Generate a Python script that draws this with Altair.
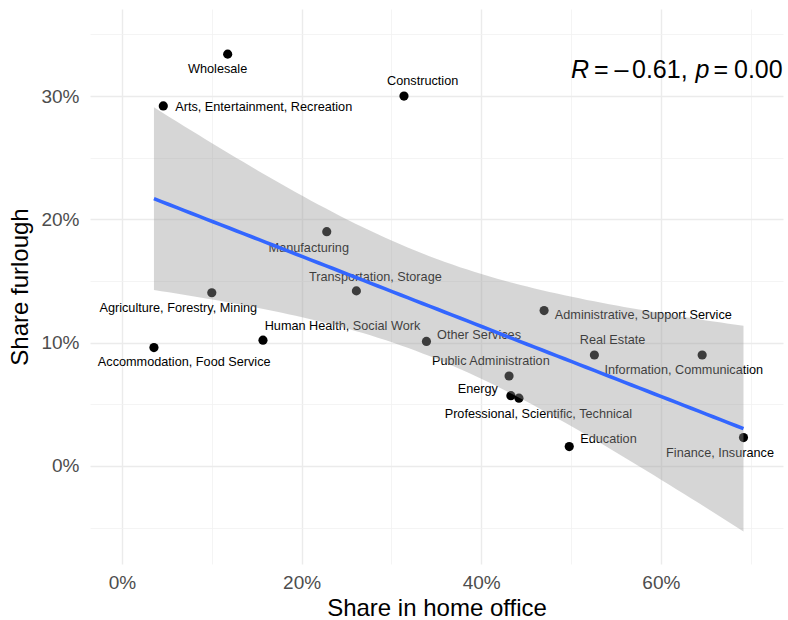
import altair as alt
import numpy as np
import pandas as pd

# Sectors: share working from home vs. share on furlough (both in %)
sectors = [
    "Wholesale", "Arts, Entertainment, Recreation", "Construction", "Manufacturing",
    "Transportation, Storage", "Agriculture, Forestry, Mining", "Human Health, Social Work",
    "Accommodation, Food Service", "Other Services", "Administrative, Support Service",
    "Real Estate", "Information, Communication", "Public Administration", "Energy",
    "Professional, Scientific, Technical", "Education", "Finance, Insurance",
]
home_office = [11.77, 4.6, 31.4, 22.8, 26.1, 10.0, 15.7, 3.56, 33.9, 47.0,
               52.6, 64.6, 43.1, 43.3, 44.2, 49.8, 69.2]
furlough = [33.4, 29.2, 30.0, 19.0, 14.2, 14.05, 10.2, 9.6, 10.1, 12.6,
            9.0, 9.0, 7.3, 5.7, 5.5, 1.57, 2.3]

# Where each sector name sits (data units), as laid out by a repel step
label_x = [10.65, 15.78, 33.48, 20.80, 28.21, 6.27, 24.55, 6.93, 39.76, 58.05,
           54.62, 62.56, 41.07, 39.62, 46.36, 54.17, 66.59]
label_y = [32.17, 29.14, 31.22, 17.70, 15.35, 12.84, 11.37, 8.43, 10.62, 12.25,
           10.19, 7.79, 8.53, 6.22, 4.22, 2.19, 1.03]

points = pd.DataFrame({"sector": sectors, "home": home_office, "furlough": furlough})
labels = pd.DataFrame({"sector": sectors, "lx": label_x, "ly": label_y})

# Linear fit with a 95% confidence band
x = np.array(home_office)
y = np.array(furlough)
n = len(x)
slope, intercept = np.polyfit(x, y, 1)
resid = y - (intercept + slope * x)
s = np.sqrt(np.sum(resid ** 2) / (n - 2))
sxx = np.sum((x - x.mean()) ** 2)
t975 = 2.131449545559323  # Student t, 97.5% quantile, 15 df
xs = np.linspace(x.min(), x.max(), 80)
fit = intercept + slope * xs
se = s * np.sqrt(1.0 / n + (xs - x.mean()) ** 2 / sxx)
band = pd.DataFrame({"home": xs, "fit": fit, "lo": fit - t975 * se, "hi": fit + t975 * se})

FONT = "Liberation Sans"
X_DOMAIN = [-3.56, 73.6]
Y_DOMAIN = [-7.95, 37.06]

x_axis = alt.Axis(
    values=list(range(0, 80, 10)),
    labelExpr="datum.value % 20 === 0 ? datum.value + '%' : ''",
    grid=True,
    gridColor={"condition": {"test": "datum.value % 20 === 0", "value": "#ebebeb"}, "value": "#f1f1f1"},
    gridWidth={"condition": {"test": "datum.value % 20 === 0", "value": 1.4}, "value": 0.8},
    ticks=False, domain=False,
    labelFontSize=19, labelColor="#4d4d4d", labelFont=FONT, labelPadding=9,
    title="Share in home office", titleFontSize=24, titleFont=FONT,
    titleFontWeight="normal", titleColor="black",
    titleX=346.5, titleY=51.5, titleBaseline="alphabetic",
)
y_axis = alt.Axis(
    values=list(range(-5, 40, 5)),
    labelExpr="datum.value % 10 === 0 ? datum.value + '%' : ''",
    grid=True,
    gridColor={"condition": {"test": "datum.value % 10 === 0", "value": "#ebebeb"}, "value": "#f1f1f1"},
    gridWidth={"condition": {"test": "datum.value % 10 === 0", "value": 1.4}, "value": 0.8},
    ticks=False, domain=False,
    labelFontSize=19, labelColor="#4d4d4d", labelFont=FONT, labelPadding=11,
    title="Share furlough", titleFontSize=24, titleFont=FONT,
    titleFontWeight="normal", titleColor="black",
    titleAngle=270, titleX=-63, titleY=277.5, titleBaseline="alphabetic", titleAlign="center",
)

xs_scale = alt.Scale(domain=X_DOMAIN, nice=False, zero=False)
ys_scale = alt.Scale(domain=Y_DOMAIN, nice=False, zero=False)

dots = alt.Chart(points).mark_circle(size=84, color="black", opacity=1).encode(
    x=alt.X("home:Q", scale=xs_scale, axis=x_axis),
    y=alt.Y("furlough:Q", scale=ys_scale, axis=y_axis),
)

names = alt.Chart(labels).mark_text(
    font=FONT, fontSize=12.7, color="black", align="center", baseline="middle"
).encode(
    x=alt.X("lx:Q", scale=xs_scale),
    y=alt.Y("ly:Q", scale=ys_scale),
    text="sector:N",
)

ribbon = alt.Chart(band).mark_area(color="#999999", opacity=0.4).encode(
    x=alt.X("home:Q", scale=xs_scale),
    y=alt.Y("lo:Q", scale=ys_scale),
    y2="hi:Q",
)

trend = alt.Chart(band).mark_line(color="#3366FF", strokeWidth=3.6).encode(
    x=alt.X("home:Q", scale=xs_scale),
    y=alt.Y("fit:Q", scale=ys_scale),
)

# Correlation annotation, upper right
one = pd.DataFrame({"k": [0]})
def piece(text, px, italic=False):
    return alt.Chart(one).mark_text(
        text=text, font=FONT, fontSize=25, color="black",
        fontStyle="italic" if italic else "normal",
        align="left", baseline="alphabetic",
    ).encode(x=alt.value(px), y=alt.value(69))

annotation = alt.layer(
    piece("R", 481.0, True),
    piece("=", 504.0),
    piece("\u2013", 524.5),
    piece("0.61,", 542.0),
    piece("p", 605.5, True),
    piece("=", 623.5),
    piece("0.00", 644.0),
)

chart = alt.layer(dots, names, ribbon, trend, annotation).properties(
    width=693, height=555,
    autosize=alt.AutoSizeParams(type="none"),
    padding={"left": 90, "top": 9, "right": 5, "bottom": 56},
    background="white",
).configure_view(stroke=None)

chart.save("out.html", embed_options={"renderer": "svg", "actions": False})
